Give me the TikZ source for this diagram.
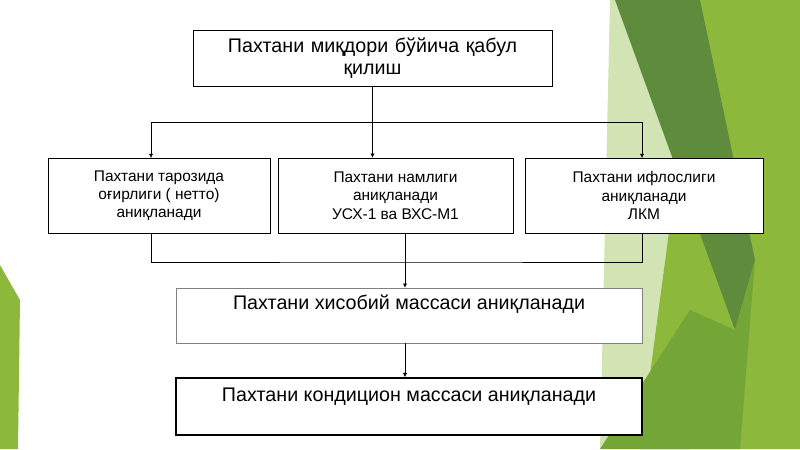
\documentclass[tikz,border=0pt]{standalone}
\usepackage{fontspec}
\setmainfont{Liberation Sans}
\usetikzlibrary{arrows.meta}
\definecolor{leafdark}{RGB}{95, 140, 60}
\definecolor{leaflight}{RGB}{140, 185, 60}
\definecolor{leafpale}{RGB}{210, 228, 180}
\definecolor{leafmid}{RGB}{115, 165, 55}
\begin{document}
\begin{tikzpicture}[x=0.025cm, y=-0.025cm,
  box/.style={draw, fill=white, align=center, inner sep=0pt},
  small/.style={box, font=\fontsize{11}{13}\selectfont},
  large/.style={box, font=\fontsize{14}{16}\selectfont},
  link/.style={-{Latex[length=3pt,width=3pt]}}]
  \useasboundingbox (0,0) rectangle (800,449);
  % Background leaves
  \fill[leafpale] (610,0) -- (690,0) -- (690,449) -- (600,449) -- cycle;
  \fill[leaflight] (700,0) -- (800,0) -- (800,449) -- (640,449) -- cycle;
  \fill[leafdark] (615,0) -- (700,0) -- (755,260) -- (735,330) -- cycle;
  \fill[leafmid] (735,330) -- (755,260) -- (740,449) -- (600,449) -- (690,310) -- cycle;
  \fill[leaflight] (0,265) -- (20,300) -- (18,449) -- (0,449) -- cycle;
  % Boxes
  \node[large, minimum width=359*0.025cm, minimum height=56*0.025cm, text width=330*0.025cm] (intake) at (372.5,58) {Пахтани миқдори бўйича қабул\\қилиш};
  \node[small, minimum width=222*0.025cm, minimum height=75*0.025cm] (weight) at (159,195.5) {Пахтани тарозида\\оғирлиги ( нетто)\\аниқланади};
  \node[small, minimum width=235*0.025cm, minimum height=75*0.025cm] (moist) at (395.5,195.5) {Пахтани намлиги\\аниқланади\\УСХ-1 ва ВХС-М1};
  \node[small, minimum width=238*0.025cm, minimum height=75*0.025cm] (dirt) at (644,195.5) {Пахтани ифлослиги\\аниқланади\\ЛКМ};
  \node[box, draw=gray, minimum width=466*0.025cm, minimum height=55*0.025cm] (calc) at (409,315.5) {};
  \node[font=\fontsize{14}{16}\selectfont] at (409,304) {Пахтани хисобий массаси аниқланади};
  \node[box, very thick, minimum width=466*0.025cm, minimum height=57*0.025cm] (cond) at (409,406.5) {};
  \node[font=\fontsize{14}{16}\selectfont] at (409,397) {Пахтани кондицион массаси аниқланади};
  % Connectors
  \coordinate (split) at (372,122);
  \coordinate (join) at (405,262);
  \draw[link] (intake.south) -- (intake.south |- weight.north);
  \draw[link] (split) -| (151,158);
  \draw[link] (split) -| (642,158);
  \draw (151,233) |- (join) -| (642,233);
  \draw (405,233) -- (join);
  \draw[link] (join) -- (calc.north -| join);
  \draw[link] (calc.south -| join) -- (cond.north -| join);
\end{tikzpicture}
\end{document}
